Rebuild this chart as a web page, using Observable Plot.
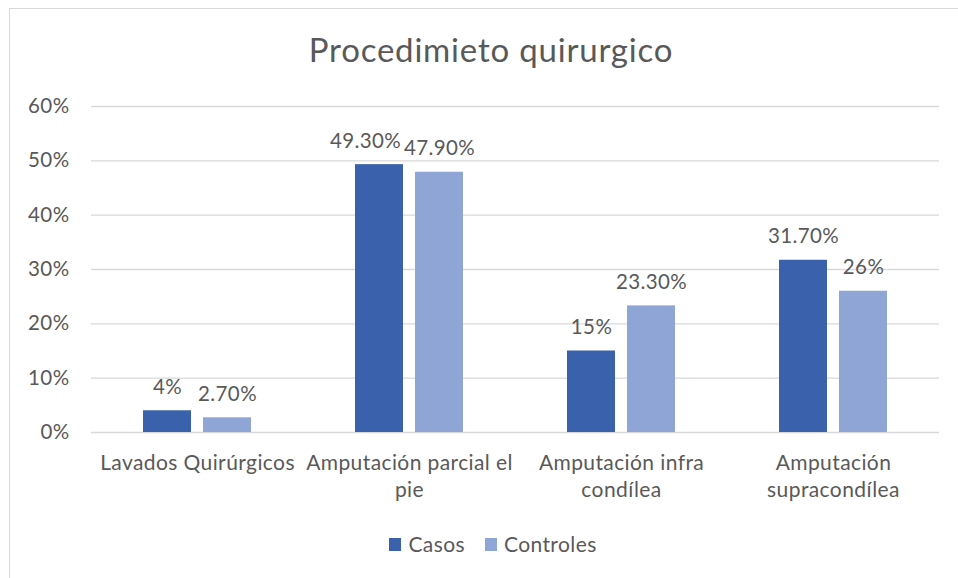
<!DOCTYPE html>
<html>
<head>
<meta charset="utf-8">
<script src="https://cdn.jsdelivr.net/npm/d3@7"></script>
<script src="https://cdn.jsdelivr.net/npm/@observablehq/plot@0.6"></script>
<style>
  html, body { margin: 0; padding: 0; background: #fff; }
  #wrap { position: relative; width: 958px; height: 578px; overflow: hidden; font-family: Lato, sans-serif; color: #595959; }
  #border { position: absolute; left: 9px; top: 8px; width: 980px; height: 600px; border: 1px solid #d9d9d9; box-sizing: border-box; }
  #title { position: absolute; left: 0; width: 958px; top: 29px; text-align: center; font-size: 33px; letter-spacing: 0.8px; line-height: 40px; padding-left: 24px; box-sizing: border-box; }
  #chart { position: absolute; left: 0; top: 80px; }
  #legend { position: absolute; left: 0; top: 532px; width: 958px; display: flex; justify-content: center; font-size: 21px; letter-spacing: 0.4px; line-height: 24px; padding-left: 28px; box-sizing: border-box; }
  .item { display: flex; align-items: center; margin: 0 10px; }
  .sw { width: 12px; height: 13px; margin-right: 7px; }
</style>
</head>
<body>
<div id="wrap">
  <div id="border"></div>
  <div id="title">Procedimieto quirurgico</div>
  <div id="chart"></div>
  <div id="legend"></div>
</div>
<script>
const categories = ["Lavados Quirúrgicos", "Amputación parcial el pie", "Amputación infra condílea", "Amputación supracondílea"];
const categoryLabels = ["Lavados Quirúrgicos", "Amputación parcial el\npie", "Amputación infra\ncondílea", "Amputación\nsupracondílea"];
const series = ["Casos", "Controles"];
const casos = [0.04, 0.493, 0.15, 0.317];
const controles = [0.027, 0.479, 0.233, 0.26];
const casosLabels = ["4%", "49.30%", "15%", "31.70%"];
const controlesLabels = ["2.70%", "47.90%", "23.30%", "26%"];
const yTicks = [0, 0.1, 0.2, 0.3, 0.4, 0.5, 0.6];
const colors = ["#3A62AC", "#8FA5D6"];

const rows = [];
categories.forEach((c, i) => {
  rows.push({cat: c, serie: series[0], value: casos[i], label: casosLabels[i], idx: i});
  rows.push({cat: c, serie: series[1], value: controles[i], label: controlesLabels[i], idx: i});
});
const labelOf = new Map(categories.map((c, i) => [c, categoryLabels[i]]));
const shifted = r => r.idx === 1 && r.serie === series[0];

const plot = Plot.plot({
  width: 958,
  height: 440,
  marginLeft: 90,
  marginRight: 18,
  marginTop: 26,
  marginBottom: 88,
  style: {fontFamily: "Lato, sans-serif", fontSize: "20.5px", letterSpacing: "0.4px", color: "#595959", background: "transparent"},
  fx: {domain: categories, padding: 0},
  x: {domain: series, paddingInner: 0.207, paddingOuter: 0.86, axis: null},
  y: {domain: [0, 0.6]},
  color: {domain: series, range: colors},
  marks: [
    Plot.gridY(yTicks, {stroke: "#d9d9d9", strokeOpacity: 1, strokeWidth: 1.4}),
    Plot.axisY({ticks: yTicks, tickFormat: d3.format(".0%"), tickSize: 0, tickPadding: 22, label: null}),
    Plot.axisFx({anchor: "bottom", tickSize: 0, tickPadding: 19, label: null, fontSize: 21, lineHeight: 1.26, tickFormat: d => labelOf.get(d)}),
    Plot.barY(rows, {fx: "cat", x: "serie", y: "value", fill: "serie"}),
    Plot.text(rows.filter(r => !shifted(r)), {fx: "cat", x: "serie", y: "value", text: "label", lineAnchor: "bottom", dy: -17, fill: "#595959"}),
    Plot.text(rows.filter(shifted), {fx: "cat", x: "serie", y: "value", text: "label", lineAnchor: "bottom", dy: -17, dx: -14, fill: "#595959"})
  ]
});
document.getElementById("chart").appendChild(plot);

const legend = document.getElementById("legend");
series.forEach((s, i) => {
  const item = document.createElement("div");
  item.className = "item";
  const sw = document.createElement("div");
  sw.className = "sw";
  sw.style.background = colors[i];
  const t = document.createElement("span");
  t.textContent = s;
  item.appendChild(sw);
  item.appendChild(t);
  legend.appendChild(item);
});
</script>
</body>
</html>
